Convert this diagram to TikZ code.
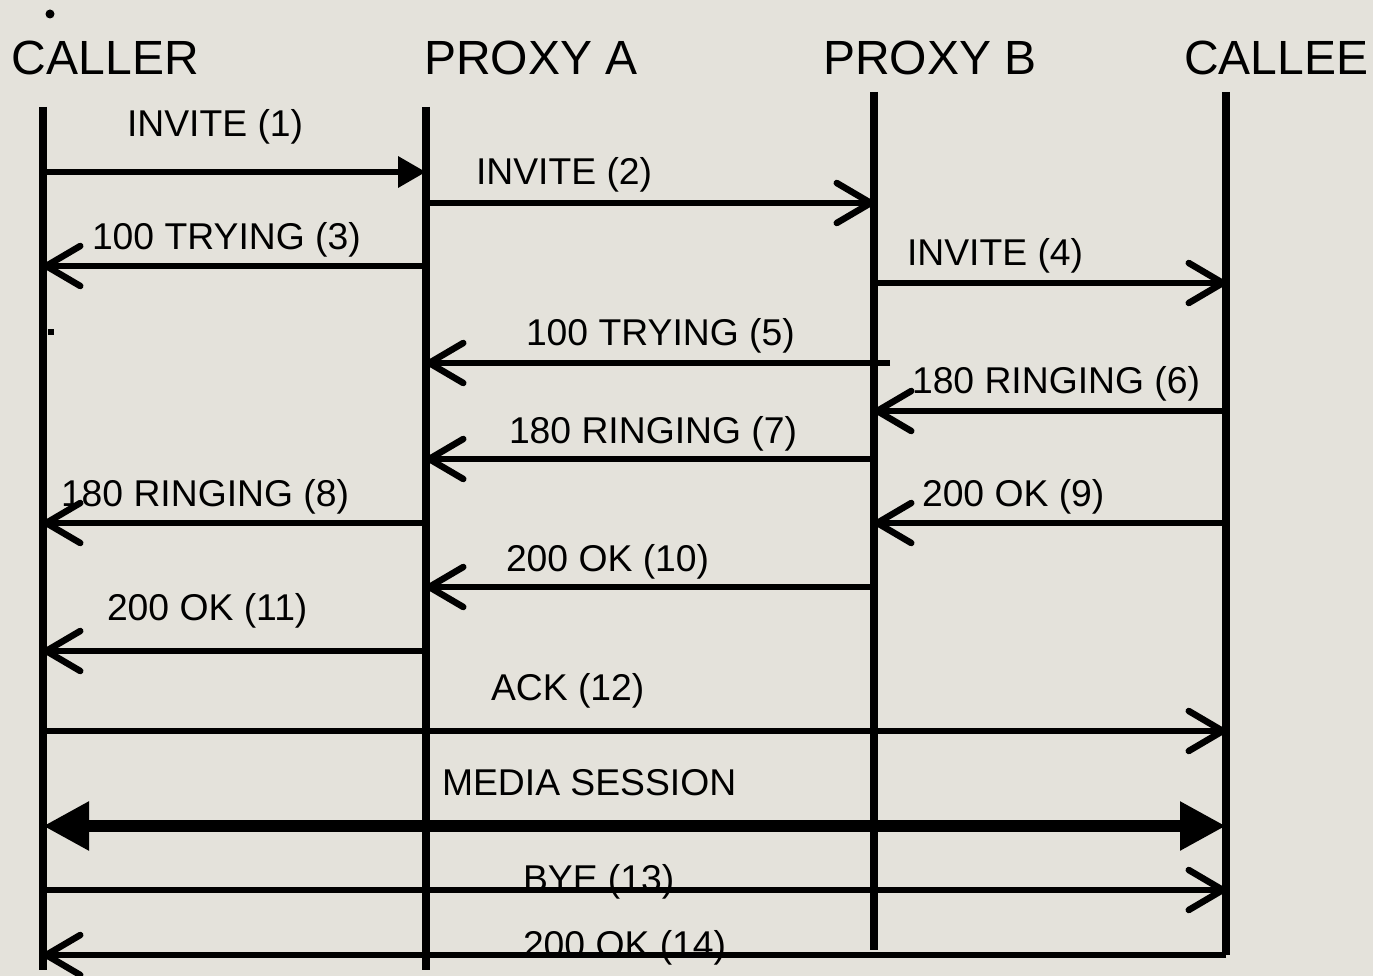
\documentclass[tikz,border=0pt]{standalone}
\usepackage{fontspec}
\setmainfont{Liberation Sans}
\usetikzlibrary{arrows.meta}
\definecolor{bg}{RGB}{228,226,219}
\tikzset{
  lifeline/.style={line width=8pt},
  msg/.style={line width=6.5pt},
  openhead/.style={msg,-{Straight Barb[length=34pt,width=40pt,line width=6.5pt,round]}},
  filledhead/.style={msg,-{Triangle[length=28pt,width=30pt]}},
  media/.style={line width=12pt,{Triangle[length=46pt,width=46pt]}-{Triangle[length=46pt,width=46pt]}},
  head/.style={anchor=base west,inner sep=0pt,outer sep=0pt,font=\fontsize{48}{56}\selectfont},
  lbl/.style={anchor=base west,inner sep=0pt,outer sep=0pt,font=\fontsize{37.3}{44}\selectfont},
}
\begin{document}
\begin{tikzpicture}[x=1pt,y=-1pt]
\fill[bg] (0,0) rectangle (1373,976);
\useasboundingbox (0,0) rectangle (1373,976);

% headers
\node[head] (hcl) at (12,75) {CALLER};
\node[head] (hpa) at (424,75) {PROXY A};
\node[head] (hpb) at (823,75) {PROXY B};
\node[head] (hce) at (1184,75) {CALLEE};

% lifeline ends
\coordinate (cl) at (43,107);   \coordinate (clb) at (43,970);
\coordinate (pa) at (426,107);  \coordinate (pab) at (426,970);
\coordinate (pb) at (874,92);   \coordinate (pbb) at (874,950);
\coordinate (ce) at (1226,92);  \coordinate (ceb) at (1226,955);

% marks
\fill (50,14) circle (4.5);
\fill (48,329) rectangle (54,335);

% labels
\node[lbl] (l1) at (127,137) {INVITE (1)};
\node[lbl] (l2) at (476,185) {INVITE (2)};
\node[lbl] (l3) at (92,250) {100 TRYING (3)};
\node[lbl] (l4) at (907,266) {INVITE (4)};
\node[lbl] (l5) at (526,345) {100 TRYING (5)};
\node[lbl] (l6) at (912,393) {180 RINGING (6)};
\node[lbl] (l7) at (509,443) {180 RINGING (7)};
\node[lbl] (l8) at (61,506) {180 RINGING (8)};
\node[lbl] (l9) at (922,506) {200 OK (9)};
\node[lbl] (l10) at (506,571) {200 OK (10)};
\node[lbl] (l11) at (107,620) {200 OK (11)};
\node[lbl] (l12) at (491,700) {ACK (12)};
\node[lbl] (l13) at (442,795) {MEDIA SESSION};
\node[lbl] (l14) at (523,891) {BYE (13)};
\node[lbl] (l15) at (523,957) {200 OK (14)};

% lifelines
\draw[lifeline] (cl) -- (clb);
\draw[lifeline] (pa) -- (pab);
\draw[lifeline] (pb) -- (pbb);
\draw[lifeline] (ce) -- (ceb);

% messages
\coordinate (s5) at (890,363);
\draw[filledhead] (cl |- 0,172) -- (pa |- 0,172);
\draw[openhead] (pa |- 0,203) -- (pb |- 0,203);
\draw[openhead] (pa |- 0,266) -- (cl |- 0,266);
\draw[openhead] (pb |- 0,283) -- (ce |- 0,283);
\draw[openhead] (s5) -- (pa |- s5);
\draw[openhead] (ce |- 0,411) -- (pb |- 0,411);
\draw[openhead] (pb |- 0,459) -- (pa |- 0,459);
\draw[openhead] (pa |- 0,523) -- (cl |- 0,523);
\draw[openhead] (ce |- 0,523) -- (pb |- 0,523);
\draw[openhead] (pb |- 0,587) -- (pa |- 0,587);
\draw[openhead] (pa |- 0,651) -- (cl |- 0,651);
\draw[openhead] (cl |- 0,731) -- (ce |- 0,731);
\draw[media] (cl |- 0,826) -- (ce |- 0,826);
\draw[openhead] (cl |- 0,890) -- (ce |- 0,890);
\draw[openhead] (ceb) -- (cl |- ceb);
\end{tikzpicture}
\end{document}
